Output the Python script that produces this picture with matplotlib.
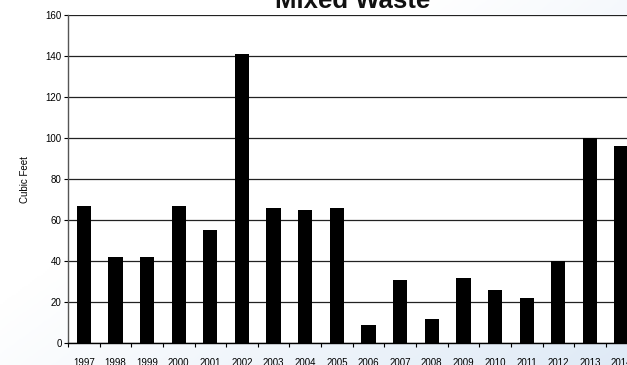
import numpy as np
import matplotlib
matplotlib.use("Agg")
import matplotlib.pyplot as plt
from matplotlib.colors import LinearSegmentedColormap

# Mixed waste volume by year
years = ["1997", "1998", "1999", "2000", "2001", "2002", "2003", "2004", "2005",
         "2006", "2007", "2008", "2009", "2010", "2011", "2012", "2013", "2014"]
volumes = [67, 42, 42, 67, 55, 141, 66, 65, 66,
           9, 31, 12, 32, 26, 22, 40, 100, 96]
y_ticks = [0, 20, 40, 60, 80, 100, 120, 140, 160]

plt.rcParams["font.family"] = ["Liberation Sans Narrow", "Liberation Sans", "DejaVu Sans"]

W, H, DPI = 627, 365, 100
fig = plt.figure(figsize=(W / DPI, H / DPI), dpi=DPI)

# soft diagonal backdrop, white at top-left fading to pale blue at bottom-right
bg = fig.add_axes([0, 0, 1, 1], zorder=-10)
gx, gy = np.meshgrid(np.linspace(0, 1, 300), np.linspace(0, 1, 200))
grad = np.clip((gx * 0.75 + gy * 0.6 - 0.5) / 0.9, 0, 1)
cmap = LinearSegmentedColormap.from_list("bg", ["#ffffff", "#dfeaf6"])
bg.imshow(grad, cmap=cmap, aspect="auto", extent=[0, 1, 0, 1], origin="upper")
bg.set_axis_off()

ax_left, ax_right = 68 / W, 637.4 / W
ax_bottom, ax_top = (H - 343.3) / H, (H - 15) / H
ax = fig.add_axes([ax_left, ax_bottom, ax_right - ax_left, ax_top - ax_bottom])
ax.set_facecolor("white")

x = np.arange(len(years))
ax.bar(x, volumes, width=0.45, color="black", zorder=3)

ax.set_xlim(-0.5, len(years) - 0.5)
ax.set_ylim(0, 160)
ax.set_yticks(y_ticks)
ax.set_yticklabels([str(v) for v in y_ticks], fontsize=7)
ax.yaxis.grid(True, color="#222222", linewidth=0.9, zorder=1)
ax.axhline(160, color="#666666", linewidth=1.2, zorder=1)

ax.set_xticks(x)
ax.set_xticklabels(years, fontsize=7)
ax.set_xticks(np.arange(-0.5, len(years), 1.0), minor=True)
ax.tick_params(axis="x", which="major", length=0, pad=10.5)
ax.tick_params(axis="x", which="minor", length=3, width=0.8, direction="out")
ax.tick_params(axis="y", length=3, width=0.8, direction="out", pad=1.5)

for side in ("top", "right"):
    ax.spines[side].set_visible(False)
ax.spines["left"].set_color("#555555")
ax.spines["left"].set_linewidth(1.0)
ax.spines["bottom"].set_color("black")
ax.spines["bottom"].set_linewidth(1.0)

ax.set_ylabel("Cubic Feet", fontsize=7, labelpad=11)

fig.text((68 + 637.4) / 2 / W, (H - 8) / H, "Mixed Waste", ha="center", va="baseline",
         fontsize=18.5, fontweight="bold", family=["Liberation Sans", "DejaVu Sans"],
         color="#111111")

fig.savefig("out.png", dpi=DPI)
